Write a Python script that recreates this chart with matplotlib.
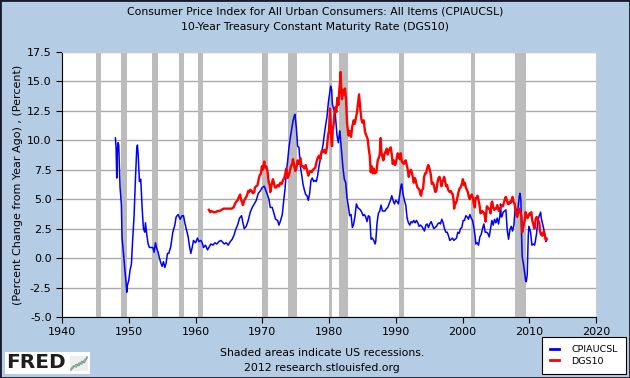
import matplotlib.pyplot as plt
import numpy as np

# Data (year as decimal, percent)
rec_start = [1945.1, 1948.9, 1953.5, 1957.6, 1960.3, 1969.9, 1973.9, 1980.0, 1981.5, 1990.5, 2001.2, 2007.9]
rec_end = [1945.8, 1949.8, 1954.4, 1958.3, 1961.1, 1970.9, 1975.2, 1980.5, 1982.9, 1991.2, 2001.9, 2009.5]

cpi_years = [1948.0, 1948.1, 1948.2, 1948.3, 1948.4, 1948.5, 1948.7, 1948.9, 1949.0, 1949.2, 1949.4, 1949.6,
             1949.7, 1949.8, 1950.0, 1950.2, 1950.4, 1950.6, 1950.8, 1951.0, 1951.2, 1951.3, 1951.4, 1951.6,
             1951.8, 1952.0, 1952.2, 1952.4, 1952.5, 1952.7, 1952.9, 1953.1, 1953.3, 1953.6, 1953.8, 1954.0,
             1954.2, 1954.4, 1954.6, 1954.8, 1955.0, 1955.2, 1955.4, 1955.6, 1955.8, 1956.0, 1956.3, 1956.6,
             1956.9, 1957.1, 1957.4, 1957.7, 1958.0, 1958.2, 1958.4, 1958.7, 1958.9, 1959.1, 1959.3, 1959.5,
             1959.7, 1960.0, 1960.3, 1960.5, 1960.8, 1961.0, 1961.2, 1961.5, 1961.8, 1962.0, 1962.3, 1962.6,
             1962.9, 1963.2, 1963.5, 1963.8, 1964.0, 1964.3, 1964.6, 1964.9, 1965.2, 1965.5, 1965.8, 1966.0,
             1966.3, 1966.6, 1966.9, 1967.1, 1967.3, 1967.6, 1967.9, 1968.2, 1968.5, 1968.8, 1969.1, 1969.4,
             1969.7, 1970.0, 1970.3, 1970.5, 1970.7, 1971.0, 1971.2, 1971.5, 1971.7, 1972.0, 1972.3, 1972.5,
             1972.7, 1973.0, 1973.2, 1973.4, 1973.6, 1973.8, 1974.0, 1974.2, 1974.4, 1974.6, 1974.8, 1974.9,
             1975.1, 1975.3, 1975.5, 1975.7, 1975.9, 1976.1, 1976.3, 1976.5, 1976.7, 1976.9, 1977.1, 1977.3,
             1977.5, 1977.7, 1977.9, 1978.1, 1978.3, 1978.5, 1978.7, 1978.9, 1979.1, 1979.3, 1979.5, 1979.7,
             1979.9, 1980.1, 1980.25, 1980.4, 1980.5, 1980.7, 1980.9, 1981.0, 1981.2, 1981.4, 1981.6, 1981.7,
             1981.9, 1982.1, 1982.3, 1982.5, 1982.7, 1982.9, 1983.1, 1983.3, 1983.5, 1983.7, 1983.9, 1984.1,
             1984.3, 1984.5, 1984.7, 1984.9, 1985.1, 1985.3, 1985.5, 1985.7, 1985.9, 1986.1, 1986.3, 1986.5,
             1986.7, 1986.9, 1987.0, 1987.2, 1987.4, 1987.6, 1987.8, 1988.0, 1988.2, 1988.4, 1988.6, 1988.8,
             1989.0, 1989.2, 1989.4, 1989.6, 1989.8, 1990.0, 1990.2, 1990.4, 1990.6, 1990.8, 1990.9, 1991.1,
             1991.3, 1991.5, 1991.7, 1991.9, 1992.1, 1992.3, 1992.5, 1992.7, 1992.9, 1993.1, 1993.3, 1993.5,
             1993.7, 1993.9, 1994.1, 1994.3, 1994.5, 1994.7, 1994.9, 1995.1, 1995.3, 1995.5, 1995.7, 1995.9,
             1996.1, 1996.3, 1996.5, 1996.7, 1996.9, 1997.1, 1997.3, 1997.5, 1997.7, 1997.9, 1998.1, 1998.3,
             1998.5, 1998.7, 1998.9, 1999.1, 1999.3, 1999.5, 1999.7, 1999.9, 2000.1, 2000.3, 2000.5, 2000.7,
             2000.9, 2001.1, 2001.3, 2001.5, 2001.7, 2001.9, 2002.0, 2002.2, 2002.4, 2002.6, 2002.8, 2003.0,
             2003.2, 2003.4, 2003.6, 2003.8, 2004.0, 2004.2, 2004.4, 2004.6, 2004.8, 2005.0, 2005.2, 2005.4,
             2005.6, 2005.7, 2005.8, 2005.9, 2006.1, 2006.3, 2006.5, 2006.7, 2006.9, 2007.1, 2007.3, 2007.5,
             2007.7, 2007.9, 2008.1, 2008.3, 2008.5, 2008.6, 2008.75, 2008.85, 2008.95, 2009.1, 2009.3, 2009.45,
             2009.55, 2009.7, 2009.85, 2009.95, 2010.1, 2010.2, 2010.4, 2010.6, 2010.8, 2010.9, 2011.1, 2011.3,
             2011.5, 2011.7, 2011.8, 2012.0, 2012.2, 2012.4, 2012.5, 2012.6]
cpi_values = [10.2, 9.4, 6.8, 9.2, 9.8, 9.6, 6.0, 4.5, 1.7, 0.5, -0.9, -2.1,
              -2.9, -2.3, -1.9, -1.0, -0.5, 1.7, 3.6, 6.7, 9.3, 9.6, 8.9, 6.5,
              6.7, 4.3, 2.5, 2.2, 3.0, 2.0, 1.2, 0.9, 0.9, 0.9, 0.5, 1.3,
              0.8, 0.5, 0.0, -0.4, -0.7, -0.3, -0.8, -0.4, 0.4, 0.4, 1.0, 2.2,
              2.8, 3.5, 3.7, 3.3, 3.6, 3.6, 3.0, 2.3, 1.8, 1.0, 0.4, 0.9,
              1.5, 1.3, 1.7, 1.4, 1.5, 1.3, 0.9, 1.1, 0.7, 0.9, 1.2, 1.1,
              1.3, 1.2, 1.4, 1.5, 1.4, 1.2, 1.3, 1.1, 1.4, 1.6, 2.0, 2.4,
              2.8, 3.4, 3.6, 3.0, 2.5, 2.7, 3.2, 3.9, 4.3, 4.6, 4.9, 5.5,
              5.7, 6.0, 6.1, 5.8, 5.5, 5.0, 4.3, 4.3, 3.9, 3.3, 3.2, 2.8,
              3.1, 3.7, 4.8, 5.8, 7.3, 8.2, 9.4, 10.2, 10.9, 11.6, 12.1, 12.2,
              11.1, 9.5, 9.4, 7.8, 7.1, 6.3, 5.8, 5.4, 5.3, 4.9, 5.5, 6.6,
              6.8, 6.5, 6.6, 6.5, 7.0, 7.8, 8.4, 9.0, 9.6, 10.5, 11.3, 12.0,
              13.2, 14.0, 14.6, 14.3, 13.1, 12.6, 12.5, 11.8, 10.4, 9.8, 10.8, 10.3,
              9.0, 7.6, 6.7, 6.4, 5.1, 4.4, 3.6, 3.7, 2.6, 2.9, 3.6, 4.6,
              4.3, 4.2, 4.1, 3.9, 3.6, 3.7, 3.5, 3.1, 3.6, 3.5, 1.6, 1.7,
              1.5, 1.2, 1.4, 3.0, 3.8, 4.0, 4.5, 4.0, 4.0, 4.0, 4.2, 4.3,
              4.6, 4.9, 5.3, 4.9, 4.6, 4.9, 4.8, 4.6, 5.4, 6.2, 6.3, 5.4,
              4.9, 4.5, 3.4, 3.0, 2.8, 3.1, 3.0, 3.2, 3.0, 3.2, 3.0, 2.7,
              2.8, 2.7, 2.5, 2.3, 2.8, 2.9, 2.6, 2.9, 3.1, 2.8, 2.5, 2.6,
              2.7, 2.9, 3.0, 2.9, 3.3, 3.0, 2.5, 2.2, 2.2, 1.9, 1.5, 1.6,
              1.7, 1.5, 1.6, 1.7, 2.2, 2.1, 2.5, 2.6, 3.2, 3.2, 3.6, 3.5,
              3.3, 3.7, 3.4, 3.2, 2.6, 1.8, 1.2, 1.3, 1.1, 1.8, 2.0, 2.5,
              2.9, 2.2, 2.2, 2.1, 1.8, 2.5, 3.2, 2.8, 3.3, 3.0, 3.4, 2.9,
              3.6, 4.6, 3.5, 3.5, 3.9, 4.0, 4.1, 2.4, 1.6, 2.4, 2.7, 2.3,
              2.8, 4.3, 4.0, 4.1, 5.2, 5.5, 4.9, 1.9, 0.1, -0.4, -1.2, -1.9,
              -2.0, -1.4, 1.9, 2.7, 2.4, 2.2, 1.1, 1.2, 1.1, 1.4, 2.1, 3.2,
              3.6, 3.9, 3.4, 2.9, 2.4, 1.7, 1.4, 1.7]

dgs_years = [1962.0, 1962.2, 1962.4, 1962.7, 1963.0, 1963.3, 1963.6, 1963.9, 1964.2, 1964.5, 1964.8, 1965.1,
             1965.4, 1965.7, 1965.9, 1966.1, 1966.3, 1966.5, 1966.7, 1966.8, 1967.0, 1967.1, 1967.3, 1967.5,
             1967.7, 1967.9, 1968.0, 1968.2, 1968.4, 1968.6, 1968.8, 1968.9, 1969.1, 1969.3, 1969.5, 1969.6,
             1969.8, 1969.95, 1970.1, 1970.3, 1970.4, 1970.6, 1970.8, 1970.95, 1971.1, 1971.2, 1971.4, 1971.6,
             1971.7, 1971.9, 1972.1, 1972.3, 1972.5, 1972.7, 1972.9, 1973.1, 1973.3, 1973.5, 1973.6, 1973.8,
             1973.95, 1974.1, 1974.3, 1974.5, 1974.6, 1974.8, 1974.95, 1975.1, 1975.3, 1975.5, 1975.7, 1975.9,
             1976.1, 1976.3, 1976.5, 1976.7, 1976.9, 1977.0, 1977.2, 1977.4, 1977.6, 1977.8, 1977.95, 1978.1,
             1978.3, 1978.5, 1978.7, 1978.9, 1979.1, 1979.3, 1979.5, 1979.7, 1979.85, 1980.0, 1980.15, 1980.25,
             1980.35, 1980.45, 1980.55, 1980.7, 1980.85, 1980.95, 1981.1, 1981.25, 1981.4, 1981.55, 1981.7, 1981.75,
             1981.85, 1981.95, 1982.1, 1982.25, 1982.4, 1982.55, 1982.7, 1982.85, 1982.95, 1983.1, 1983.3, 1983.5,
             1983.7, 1983.85, 1984.0, 1984.2, 1984.4, 1984.5, 1984.7, 1984.85, 1985.0, 1985.2, 1985.4, 1985.6,
             1985.8, 1985.95, 1986.1, 1986.25, 1986.4, 1986.55, 1986.7, 1986.9, 1987.1, 1987.3, 1987.45, 1987.6,
             1987.75, 1987.85, 1988.0, 1988.15, 1988.3, 1988.5, 1988.65, 1988.8, 1988.95, 1989.1, 1989.25, 1989.4,
             1989.55, 1989.7, 1989.85, 1990.0, 1990.15, 1990.3, 1990.45, 1990.6, 1990.75, 1990.9, 1991.05, 1991.2,
             1991.35, 1991.5, 1991.65, 1991.8, 1991.95, 1992.1, 1992.25, 1992.4, 1992.55, 1992.7, 1992.85, 1992.95,
             1993.1, 1993.25, 1993.4, 1993.55, 1993.7, 1993.8, 1993.95, 1994.1, 1994.25, 1994.4, 1994.55, 1994.7,
             1994.85, 1994.95, 1995.1, 1995.25, 1995.4, 1995.55, 1995.7, 1995.85, 1995.95, 1996.1, 1996.25, 1996.4,
             1996.55, 1996.7, 1996.85, 1996.95, 1997.1, 1997.25, 1997.4, 1997.55, 1997.7, 1997.85, 1997.95, 1998.1,
             1998.25, 1998.4, 1998.55, 1998.7, 1998.75, 1998.85, 1998.95, 1999.1, 1999.25, 1999.4, 1999.55, 1999.7,
             1999.85, 1999.95, 2000.05, 2000.2, 2000.35, 2000.5, 2000.65, 2000.8, 2000.95, 2001.1, 2001.25, 2001.4,
             2001.55, 2001.7, 2001.85, 2001.95, 2002.1, 2002.25, 2002.4, 2002.55, 2002.7, 2002.85, 2002.95, 2003.1,
             2003.25, 2003.4, 2003.45, 2003.55, 2003.65, 2003.8, 2003.95, 2004.1, 2004.2, 2004.35, 2004.45, 2004.6,
             2004.75, 2004.9, 2005.05, 2005.2, 2005.35, 2005.45, 2005.6, 2005.75, 2005.9, 2006.05, 2006.2, 2006.4,
             2006.5, 2006.65, 2006.8, 2006.95, 2007.1, 2007.25, 2007.4, 2007.5, 2007.65, 2007.8, 2007.95, 2008.05,
             2008.2, 2008.35, 2008.45, 2008.6, 2008.75, 2008.85, 2008.95, 2009.05, 2009.2, 2009.35, 2009.45, 2009.6,
             2009.75, 2009.9, 2010.05, 2010.2, 2010.3, 2010.45, 2010.6, 2010.75, 2010.85, 2010.95, 2011.1, 2011.2,
             2011.35, 2011.5, 2011.6, 2011.75, 2011.85, 2011.95, 2012.1, 2012.2, 2012.35, 2012.45, 2012.55, 2012.6]
dgs_values = [4.1, 3.9, 4.0, 3.9, 3.9, 4.0, 4.0, 4.1, 4.2, 4.2, 4.2, 4.2,
              4.2, 4.3, 4.6, 4.8, 4.9, 5.2, 5.4, 5.0, 4.7, 4.5, 4.9, 5.1,
              5.3, 5.7, 5.6, 5.8, 5.7, 5.5, 5.6, 6.0, 6.1, 6.2, 6.8, 7.0,
              7.2, 7.8, 7.5, 8.2, 7.7, 7.8, 7.3, 6.5, 6.2, 5.6, 6.2, 6.7,
              6.5, 6.0, 6.0, 6.2, 6.1, 6.4, 6.3, 6.6, 6.8, 7.3, 7.6, 6.8,
              7.0, 7.3, 7.8, 8.0, 8.4, 7.8, 7.4, 7.6, 8.3, 8.0, 8.5, 7.8,
              7.8, 7.6, 7.9, 7.5, 7.0, 7.2, 7.4, 7.3, 7.5, 7.6, 7.7, 8.1,
              8.5, 8.7, 8.4, 9.1, 9.0, 9.2, 8.9, 9.4, 10.4, 10.8, 12.7, 11.5,
              10.0, 9.5, 10.8, 11.4, 12.6, 12.8, 12.4, 13.6, 13.0, 14.3, 15.3, 15.8,
              14.0, 13.5, 14.3, 13.9, 14.4, 13.5, 11.5, 10.7, 10.4, 10.8, 10.3, 11.2,
              11.7, 11.4, 11.8, 12.4, 13.4, 13.9, 12.6, 11.8, 11.5, 11.7, 10.7, 10.4,
              10.1, 9.3, 8.7, 7.3, 7.8, 7.2, 7.6, 7.2, 7.3, 8.3, 8.5, 8.8,
              10.2, 9.0, 8.6, 8.3, 8.8, 9.1, 9.3, 8.8, 9.1, 9.3, 9.4, 8.8,
              8.0, 8.3, 7.9, 8.0, 8.5, 8.9, 8.6, 8.4, 8.9, 8.2, 8.1, 8.0,
              8.2, 8.3, 7.9, 7.5, 6.9, 7.3, 7.5, 7.3, 6.9, 6.4, 6.8, 6.7,
              6.3, 6.0, 5.9, 5.8, 5.4, 5.3, 5.8, 5.9, 6.9, 7.2, 7.2, 7.6,
              7.9, 7.8, 7.5, 7.1, 6.3, 6.4, 6.2, 5.8, 5.6, 5.8, 6.4, 6.8,
              6.9, 6.6, 6.1, 6.4, 6.6, 6.9, 6.5, 6.1, 6.2, 5.8, 5.7, 5.6,
              5.7, 5.5, 5.4, 4.7, 4.2, 4.7, 4.6, 4.8, 5.2, 5.6, 5.9, 6.0,
              6.2, 6.4, 6.7, 6.2, 6.4, 6.0, 5.8, 5.6, 5.2, 5.0, 5.3, 5.4,
              5.1, 4.6, 4.3, 5.1, 5.1, 5.3, 4.9, 4.5, 3.8, 3.9, 4.0, 3.9,
              3.8, 3.4, 3.1, 3.8, 4.4, 4.3, 4.2, 4.1, 3.8, 4.7, 4.8, 4.3,
              4.1, 4.2, 4.2, 4.5, 4.2, 4.0, 4.2, 4.3, 4.5, 4.4, 4.7, 5.1,
              5.2, 4.9, 4.6, 4.6, 4.8, 4.7, 5.0, 5.2, 4.8, 4.6, 4.1, 3.7,
              3.5, 3.9, 4.2, 3.9, 3.8, 3.5, 2.2, 2.5, 2.9, 3.3, 3.9, 3.6,
              3.4, 3.6, 3.8, 3.7, 3.9, 3.2, 2.9, 2.5, 2.6, 3.3, 3.5, 3.4,
              3.2, 3.0, 2.3, 2.0, 2.1, 1.9, 2.0, 2.3, 1.9, 1.6, 1.5, 1.6]

# little FRED logo chart
logo_x = [0, 1, 2, 3, 4, 5, 6]
logo_g = [1, 2, 1.5, 3, 2.5, 4, 4.5]
logo_b = [0.5, 1.5, 2.5, 2, 3.5, 3, 5]

bg = '#b4cce4'
fig = plt.figure(figsize=(6.3, 3.78), dpi=100, facecolor=bg)
ax = fig.add_axes([62 / 630, 1 - 317 / 378, 534 / 630, 265 / 378])
ax.set_facecolor('white')

for s, e in zip(rec_start, rec_end):
    ax.axvspan(s, e, color='#bcbcbc', lw=0, zorder=1)

ax.plot(cpi_years, cpi_values, color='#0000ff', lw=1.1, zorder=3, label='CPIAUCSL')
ax.plot(dgs_years, dgs_values, color='#ff0000', lw=1.7, zorder=4, label='DGS10')

ax.set_xlim(1940, 2020)
ax.set_ylim(-5, 17.5)
ax.set_xticks(np.arange(1940, 2021, 10))
ax.set_yticks(np.arange(-5, 17.6, 2.5))
ax.set_yticklabels(['%.1f' % v for v in np.arange(-5, 17.6, 2.5)])
ax.yaxis.grid(True, color='#aaaaaa', lw=1, zorder=0)
ax.set_axisbelow(True)
ax.tick_params(labelsize=8, direction='out', length=4, color='black')
for side in ['top', 'right']:
    ax.spines[side].set_color('#cccccc')
for side in ['left', 'bottom']:
    ax.spines[side].set_color('black')

ax.set_ylabel('(Percent Change from Year Ago) , (Percent)', fontsize=8, labelpad=3)

fig.text(0.5, 1 - 12 / 378, 'Consumer Price Index for All Urban Consumers: All Items (CPIAUCSL)',
         ha='center', va='center', fontsize=7.8)
fig.text(0.5, 1 - 27 / 378, '10-Year Treasury Constant Maturity Rate (DGS10)',
         ha='center', va='center', fontsize=7.8)
fig.text(322 / 630, 1 - 353 / 378, 'Shaded areas indicate US recessions.',
         ha='center', va='center', fontsize=7.8)
fig.text(322 / 630, 1 - 368 / 378, '2012 research.stlouisfed.org',
         ha='center', va='center', fontsize=7.8)

# FRED logo: white box, bold text and a tiny chart
fig.patches.append(plt.Rectangle((5 / 630, 4 / 378), 85 / 630, 22 / 378, transform=fig.transFigure,
                                 facecolor='white', edgecolor='none', zorder=2))
fig.text(6 / 630, 1 - 363 / 378, 'FRED', ha='left', va='center', fontsize=14.5, fontweight='bold',
         color='#1e1e1e', zorder=3)
lax = fig.add_axes([70 / 630, 7 / 378, 18 / 630, 15 / 378], zorder=4)
lax.set_facecolor('#eeeeee')
lax.plot(logo_x, logo_g, color='#7cb342', lw=0.8)
lax.plot(logo_x, logo_b, color='#6a8fc0', lw=0.8)
lax.set_xticks([])
lax.set_yticks([])
for sp in lax.spines.values():
    sp.set_visible(False)

leg = ax.legend(loc='lower right', bbox_to_anchor=(626 / 630, 4 / 378),
                bbox_transform=fig.transFigure, fontsize=6.8, framealpha=1,
                frameon=True, fancybox=False, edgecolor='black', handlelength=0.9,
                handletextpad=1.3, borderpad=0.9, labelspacing=0.25, borderaxespad=0)
leg.get_frame().set_linewidth(0.8)
for line in leg.get_lines():
    line.set_linewidth(2)

# dark border round the figure
fig.patches.append(plt.Rectangle((0, 0), 1, 1, transform=fig.transFigure, fill=False,
                                 edgecolor='#1a1a2e', lw=2, zorder=10))

plt.savefig('out.png', dpi=100, facecolor=bg)
